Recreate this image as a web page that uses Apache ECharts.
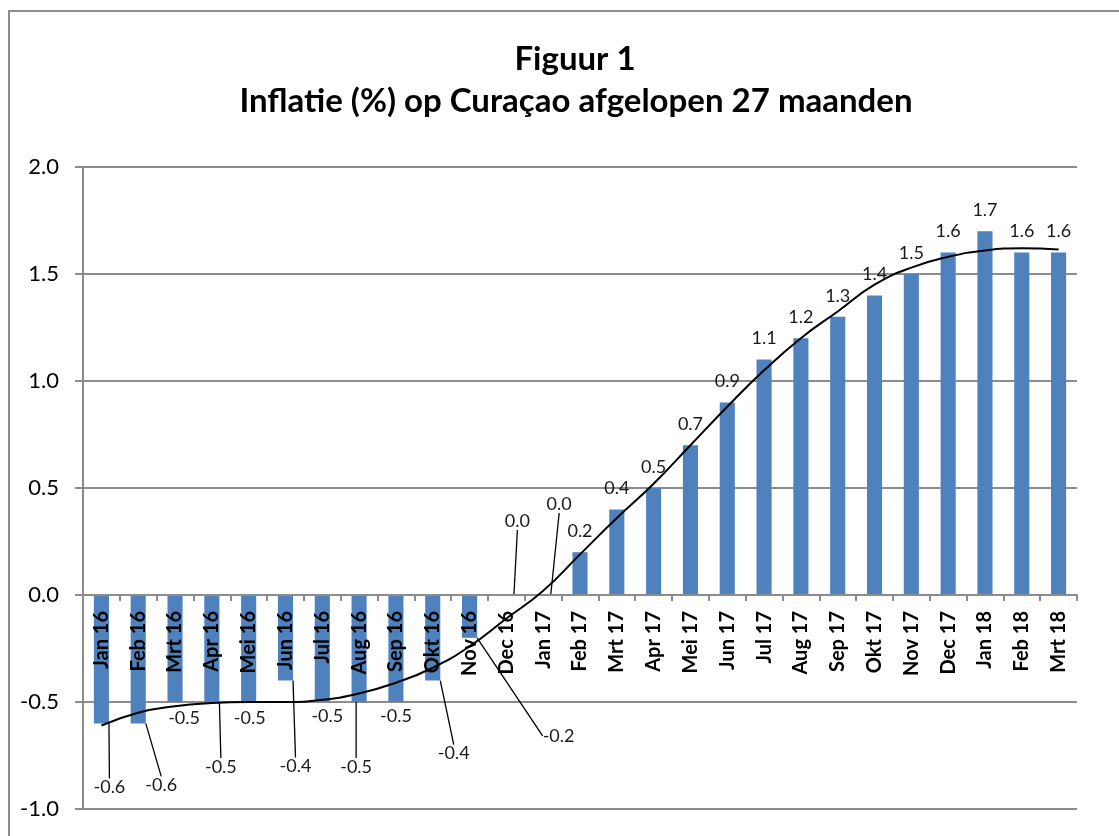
<!DOCTYPE html>
<html>
<head>
<meta charset="utf-8">
<script src="https://cdn.jsdelivr.net/npm/echarts@6/dist/echarts.min.js"></script>
<style>
    html, body { margin: 0; padding: 0; background: #fff; }
    #chart { width: 1119px; height: 836px; }
</style>
</head>
<body>
<div id="chart"></div>
<script>
// maanden
const months = ['Jan 16', 'Feb 16', 'Mrt 16', 'Apr 16', 'Mei 16', 'Jun 16', 'Jul 16', 'Aug 16', 'Sep 16', 'Okt 16', 'Nov 16', 'Dec 16',
    'Jan 17', 'Feb 17', 'Mrt 17', 'Apr 17', 'Mei 17', 'Jun 17', 'Jul 17', 'Aug 17', 'Sep 17', 'Okt 17', 'Nov 17', 'Dec 17',
    'Jan 18', 'Feb 18', 'Mrt 18']
// inflatie (%)
const inflatie = [-0.6, -0.6, -0.5, -0.5, -0.5, -0.4, -0.5, -0.5, -0.5, -0.4, -0.2, 0.0,
    0.0, 0.2, 0.4, 0.5, 0.7, 0.9, 1.1, 1.2, 1.3, 1.4, 1.5, 1.6,
    1.7, 1.6, 1.6]
const trend = [-0.61, -0.55, -0.52, -0.505, -0.5, -0.5, -0.49, -0.46, -0.41, -0.34, -0.24, -0.11,
    0.02, 0.19, 0.36, 0.52, 0.70, 0.88, 1.05, 1.20, 1.325, 1.45, 1.53, 1.58,
    1.61, 1.62, 1.615]
const yTicks = [-1.0, -0.5, 0.0, 0.5, 1.0, 1.5, 2.0]

// verschuiving van de labels (px), index = maand
const labelShift = {
    0: [8, 49], 1: [23, 47], 2: [9, 1], 3: [9, 50], 4: [1, 1], 5: [10, 71], 6: [5, -1],
    7: [-3, 50], 8: [0, -1], 9: [21, 58], 10: [89, 83], 11: [11, -53], 12: [16, -70]
}
// labels met verbindingslijn
const withLine = [0, 1, 3, 5, 7, 9, 10, 11, 12]

const font = 'Lato, "Open Sans", sans-serif'
const grey = '#8c8c8c'

const gridTop = 167
const gridBottom = 27
const plotHeight = 836 - gridTop - gridBottom
// x-as op de nullijn
const zeroOffset = -plotHeight * (0 - yTicks[0]) / (yTicks[yTicks.length - 1] - yTicks[0])

const chart = echarts.init(document.getElementById('chart'), null, { renderer: 'canvas' })

chart.setOption({
    animation: false,
    textStyle: { fontFamily: font },
    title: [{
        text: 'Figuur 1',
        left: 570,
        top: 38,
        textAlign: 'center',
        textStyle: { fontSize: 33, fontWeight: 'bold', color: '#000', fontFamily: font }
    }, {
        text: 'Inflatie (%) op Curaçao afgelopen 27 maanden',
        left: 571,
        top: 80,
        textAlign: 'center',
        textStyle: { fontSize: 33, fontWeight: 'bold', color: '#000', fontFamily: font }
    }],
    graphic: [{
        type: 'rect',
        shape: { x: 9, y: 11, width: 1200, height: 900 },
        style: { fill: 'none', stroke: grey, lineWidth: 2 },
        silent: true
    }],
    grid: { left: 83, right: 42, top: gridTop, bottom: gridBottom, outerBoundsMode: 'none', containLabel: false },
    xAxis: {
        type: 'category',
        data: months,
        position: 'bottom',
        offset: zeroOffset,
        z: 3,
        axisLine: { onZero: false, lineStyle: { color: grey, width: 2 } },
        axisTick: { show: true, length: 6, lineStyle: { color: grey, width: 2 } },
        axisLabel: {
            rotate: 90,
            interval: 0,
            margin: 16,
            fontSize: 20,
            fontWeight: 'bold',
            color: '#000',
            fontFamily: font
        }
    },
    yAxis: {
        type: 'value',
        min: yTicks[0],
        max: yTicks[yTicks.length - 1],
        interval: 0.5,
        axisLine: { show: true, lineStyle: { color: grey, width: 2 } },
        axisTick: { show: true, length: 8, lineStyle: { color: grey, width: 2 } },
        splitLine: { lineStyle: { color: grey, width: 2 } },
        axisLabel: {
            fontSize: 22,
            color: '#000',
            margin: 24,
            fontFamily: font,
            formatter: v => v.toFixed(1)
        }
    },
    series: [{
        type: 'bar',
        name: 'Inflatie',
        barWidth: '41%',
        itemStyle: { color: '#4F81BD' },
        data: inflatie.map((v, i) => ({
            value: v,
            label: { position: v < 0 ? 'bottom' : 'top', distance: v < 0 ? 6 : 12 },
            labelLine: { show: withLine.indexOf(i) >= 0 }
        })),
        label: {
            show: true,
            fontSize: 18,
            color: '#1a1a1a',
            fontFamily: font,
            formatter: p => p.value.toFixed(1)
        },
        labelLine: {
            show: false,
            lineStyle: { color: '#000', width: 1.3 }
        },
        labelLayout: function (params) {
            const s = labelShift[params.dataIndex]
            if (!s) return {}
            return { dx: s[0], dy: s[1] }
        }
    }, {
        type: 'line',
        name: 'Trend',
        data: trend,
        smooth: true,
        showSymbol: false,
        silent: true,
        z: 4,
        lineStyle: { color: '#000', width: 2 }
    }]
})
</script>
</body>
</html>
